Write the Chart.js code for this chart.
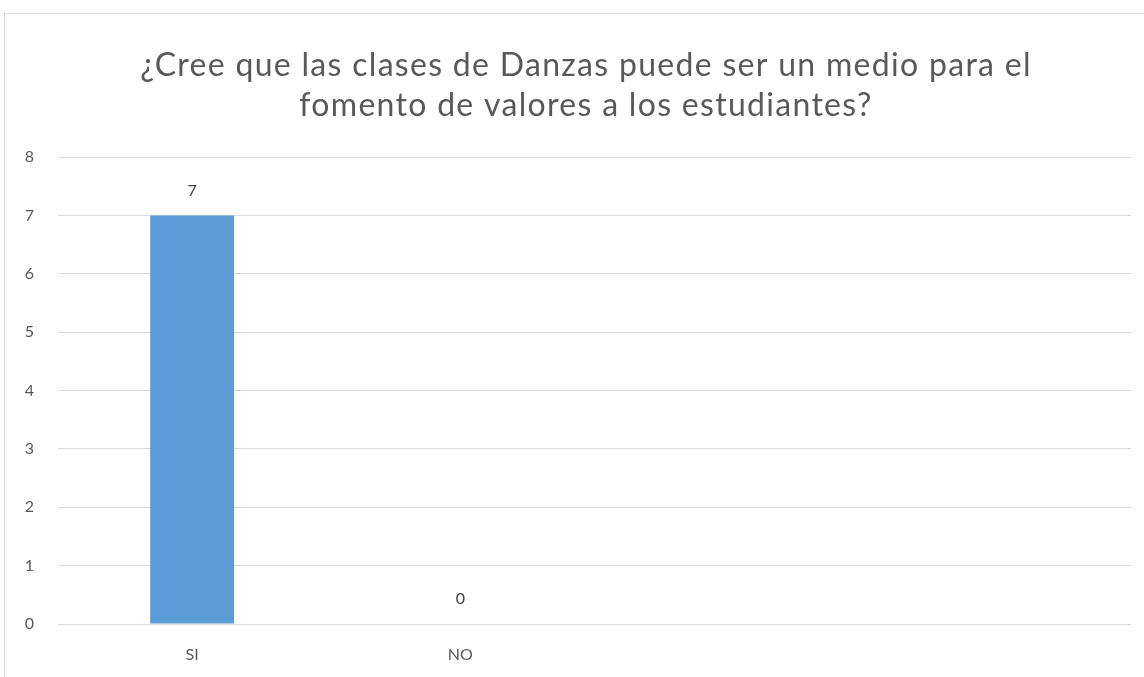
<!DOCTYPE html>
<html>
<head>
<meta charset="utf-8">
<script src="https://cdn.jsdelivr.net/npm/chart.js@4.4.1/dist/chart.umd.min.js"></script>
<style>
  html, body { margin: 0; padding: 0; background: #ffffff; }
  #wrap { position: absolute; left: 0; top: 0; width: 1144px; height: 677px; }
  #frame { position: absolute; left: 4px; top: 13px; width: 1160px; height: 700px; border: 1px solid #d9d9d9; box-sizing: border-box; }
  canvas { position: absolute; left: 0; top: 0; }
</style>
</head>
<body>
<div id="wrap">
  <div id="frame"></div>
  <canvas id="c" width="1144" height="677"></canvas>
</div>
<script>
const titleLines = ["¿Cree que las clases de Danzas puede ser un medio para el", "fomento de valores a los estudiantes?"];
const categories = ["SI", "NO", "", ""];
const values = [7, 0, null, null];
const yTicks = [0, 1, 2, 3, 4, 5, 6, 7, 8];

const FONT = "Lato, 'Liberation Sans', sans-serif";

const titlePlugin = {
  id: 'customTitle',
  afterDraw(chart, args, opts) {
    const ctx = chart.ctx;
    ctx.save();
    ctx.font = opts.size + "px " + FONT;
    ctx.fillStyle = opts.color;
    ctx.textAlign = "center";
    ctx.textBaseline = "middle";
    if ('letterSpacing' in ctx) ctx.letterSpacing = opts.spacing + "px";
    opts.lines.forEach((line, i) => {
      ctx.fillText(line, opts.centerX, opts.firstY + i * opts.lineGap);
    });
    ctx.restore();
  }
};

const labelPlugin = {
  id: 'valueLabels',
  afterDatasetsDraw(chart) {
    const ctx = chart.ctx;
    const meta = chart.getDatasetMeta(0);
    ctx.save();
    ctx.font = "16px " + FONT;
    ctx.fillStyle = "#404040";
    ctx.textAlign = "center";
    ctx.textBaseline = "middle";
    meta.data.forEach((el, i) => {
      const v = chart.data.datasets[0].data[i];
      if (v === null || v === undefined) return;
      ctx.fillText(String(v), el.x, el.y - 25);
    });
    ctx.restore();
  }
};

new Chart(document.getElementById('c'), {
  type: 'bar',
  data: {
    labels: categories,
    datasets: [{
      data: values,
      backgroundColor: '#5b9bd5',
      borderWidth: 0,
      categoryPercentage: 1.0,
      barPercentage: 0.3125
    }]
  },
  options: {
    responsive: false,
    animation: false,
    devicePixelRatio: 1,
    layout: { padding: { left: 0, right: 13, top: 157, bottom: 0 } },
    plugins: {
      legend: { display: false },
      tooltip: { enabled: false },
      title: { display: false },
      customTitle: {
        lines: titleLines,
        size: 32,
        spacing: 1.3,
        color: '#595959',
        centerX: 586,
        firstY: 66,
        lineGap: 40
      }
    },
    scales: {
      x: {
        grid: { display: false },
        border: { display: false },
        ticks: { color: '#595959', font: { family: FONT, size: 16 }, padding: 13 },
        afterFit(scale) { scale.height = 53; }
      },
      y: {
        min: 0,
        max: 8,
        afterBuildTicks(scale) { scale.ticks = yTicks.map(v => ({ value: v })); },
        grid: { color: '#d9d9d9', lineWidth: 1, drawTicks: false },
        border: { display: false },
        ticks: { color: '#595959', font: { family: FONT, size: 16 }, padding: 24, stepSize: 1 },
        afterFit(scale) { scale.width = 58; }
      }
    }
  },
  plugins: [labelPlugin, titlePlugin]
});
</script>
</body>
</html>
